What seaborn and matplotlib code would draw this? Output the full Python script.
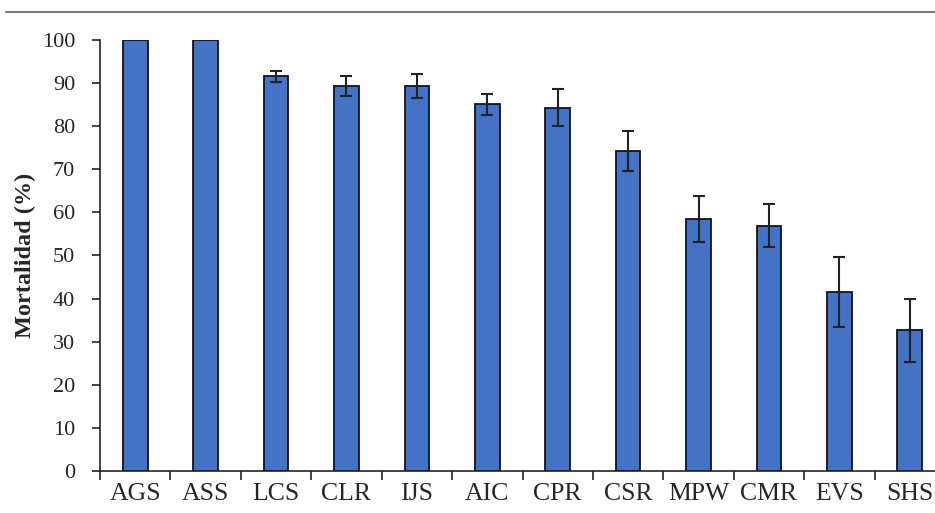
import matplotlib
matplotlib.use("Agg")
import matplotlib.pyplot as plt
import seaborn as sns
import pandas as pd
import numpy as np
from matplotlib.lines import Line2D
from matplotlib.ticker import FixedLocator

categories = ["AGS", "ASS", "LCS", "CLR", "IJS", "AIC", "CPR", "CSR", "MPW", "CMR", "EVS", "SHS"]
mortality = [100, 100, 91.6, 89.3, 89.3, 85.1, 84.3, 74.2, 58.5, 56.9, 41.5, 32.6]
errors = [0, 0, 1.3, 2.4, 2.8, 2.4, 4.3, 4.6, 5.3, 5.0, 8.1, 7.3]
yticks = list(range(0, 101, 10))

sns.set_theme(style="white")
plt.rcParams["font.family"] = ["Liberation Serif", "DejaVu Serif"]

df = pd.DataFrame({"cat": categories, "val": mortality})

fig = plt.figure(figsize=(9.35, 5.13), dpi=100)
ax = fig.add_axes([100/935, 42/513, 845/935, (471-40)/513])

sns.barplot(data=df, x="cat", y="val", color="#4472C4", width=0.35,
            edgecolor="#111122", linewidth=1.3, saturation=1, ax=ax, errorbar=None)
x = np.arange(len(categories))
mask = np.array(errors) > 0
ax.errorbar(x[mask], np.array(mortality)[mask], yerr=np.array(errors)[mask], fmt="none",
            ecolor="#222222", elinewidth=1.5, capsize=4.3, capthick=1.5)

ax.set_xlim(-0.5, len(categories) - 0.5)
ax.set_ylim(0, 100)
ax.set_yticks(yticks)
ax.set_yticklabels([str(t) for t in yticks], fontsize=16)
ax.set_xticks(x)
ax.set_xticklabels(categories, fontsize=18.5)
ax.xaxis.set_minor_locator(FixedLocator(np.arange(-0.5, len(categories), 1.0)))
ax.tick_params(axis="x", which="major", length=0, pad=9)
ax.tick_params(axis="x", which="minor", length=6.5, width=1.2, color="#222222", direction="out", bottom=True)
ax.tick_params(axis="y", which="major", length=6, width=1.2, color="#222222", direction="out", left=True, pad=12)
ax.set_xlabel("")
ax.set_ylabel("Mortalidad (%)", fontsize=17.5, fontweight="bold", labelpad=4)

for s in ["top", "right"]:
    ax.spines[s].set_visible(False)
for s in ["left", "bottom"]:
    ax.spines[s].set_color("#222222")
    ax.spines[s].set_linewidth(1.2)

fig.add_artist(Line2D([6/935, 1.0], [1 - 12/513, 1 - 12/513], color="#777777", linewidth=1.5,
                      transform=fig.transFigure))

fig.savefig("out.png", dpi=100)
